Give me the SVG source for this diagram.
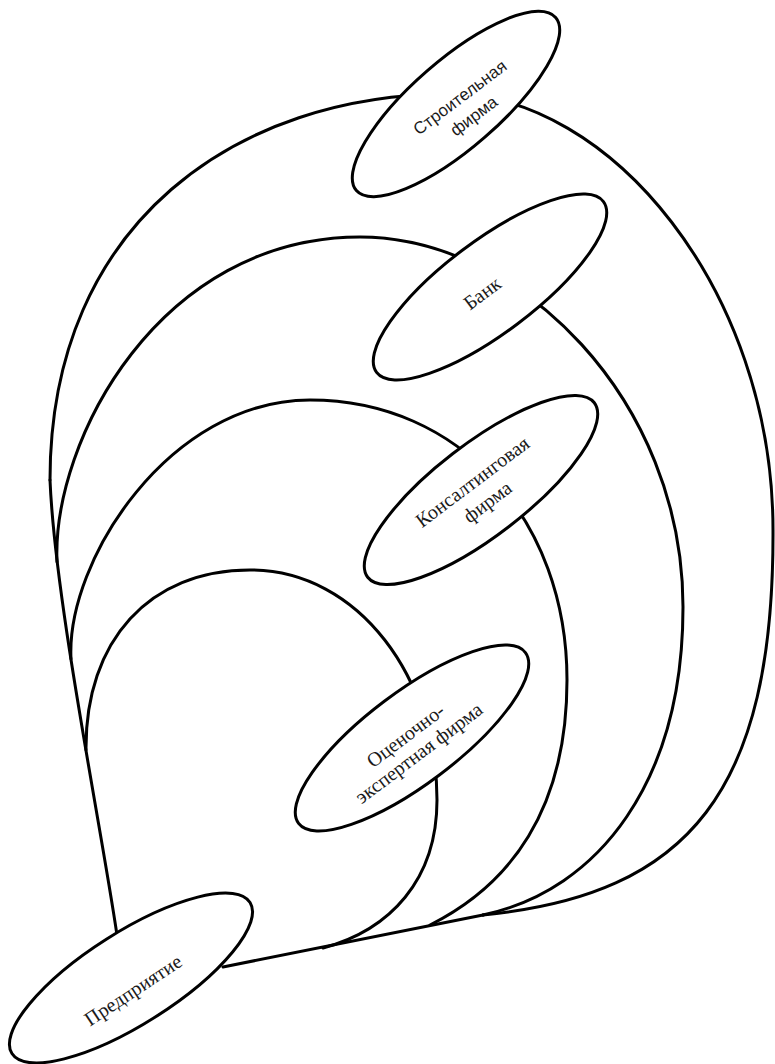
<svg xmlns="http://www.w3.org/2000/svg" width="775" height="1064" viewBox="0 0 775 1064">
<style>
.c{fill:none;stroke:#000;stroke-width:3;stroke-linecap:round;stroke-linejoin:round}
.n{fill:#fff;stroke:#000;stroke-width:3}
.t{font-family:"Liberation Serif","Times New Roman",serif;font-size:20px;fill:#1a1a1a;text-anchor:middle}
.s{font-family:"Liberation Sans",Arial,sans-serif;font-size:17px;fill:#1a1a1a;text-anchor:middle}
</style>
<rect width="775" height="1064" fill="#fff"/>
<g id="connectors">
<path class="c" d="M117,935 C100,820 55,600 50,480"/>
<path class="c" d="M50,480 C50,220 240,94 450,94 C610,94 773,290 773,530 C774,790 690,895 483,915"/>
<path class="c" d="M57,562 C52,440 160,237 360,237 C520,237 683,400 683,607 C683,780 600,890 483,915"/>
<path class="c" d="M71,659 C66,560 170,400 310,400 C460,400 567,520 567,680 C567,810 510,885 430,925"/>
<path class="c" d="M86,750 C85,640 150,570 250,570 C360,570 437,680 437,800 C437,880 390,930 323,948"/>
<path class="c" d="M223,967 L483,915"/>
</g>
<g id="stroitelnaya">
<ellipse class="n" cx="456" cy="104" rx="132" ry="44" transform="rotate(-41 456 104)"/>
<g transform="translate(467,107) rotate(-37)">
<text class="s" x="0" y="-6">Строительная</text>
<text class="s" x="0" y="17">фирма</text>
</g>
</g>
<g id="bank">
<ellipse class="n" cx="490" cy="287" rx="142" ry="46" transform="rotate(-37 490 287)"/>
<text class="t" transform="translate(482,293) rotate(-37)" x="0" y="7">Банк</text>
</g>
<g id="konsalting">
<ellipse class="n" cx="481" cy="490" rx="143" ry="46" transform="rotate(-37.6 481 490)"/>
<g transform="translate(480,492) rotate(-37)">
<text class="t" x="0" y="-6">Консалтинговая</text>
<text class="t" x="0" y="19">фирма</text>
</g>
</g>
<g id="ocenochno">
<ellipse class="n" cx="412" cy="738" rx="142" ry="46" transform="rotate(-37 412 738)"/>
<g transform="translate(412,744) rotate(-37)">
<text class="t" x="0" y="-4">Оценочно-</text>
<text class="t" x="0" y="18">экспертная фирма</text>
</g>
</g>
<g id="predpriyatie">
<ellipse class="n" cx="131" cy="978" rx="141" ry="46" transform="rotate(-32.4 131 978)"/>
<text class="t" transform="translate(133,990) rotate(-33.5)" x="0" y="7">Предприятие</text>
</g>
</svg>
